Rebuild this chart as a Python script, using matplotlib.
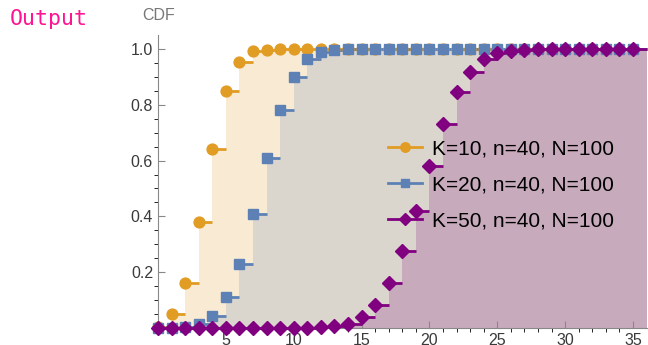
import matplotlib.pyplot as plt
from matplotlib.lines import Line2D
import numpy as np

# CDF values, k = 0..35
k = np.arange(0, 36)
cdf_k10 = [0.003, 0.047, 0.159, 0.380, 0.642, 0.850, 0.956, 0.993, 0.999, 1.0,
           1.0, 1.0, 1.0, 1.0, 1.0, 1.0, 1.0, 1.0, 1.0, 1.0,
           1.0, 1.0, 1.0, 1.0, 1.0, 1.0, 1.0, 1.0, 1.0, 1.0,
           1.0, 1.0, 1.0, 1.0, 1.0, 1.0]
cdf_k20 = [0.0, 0.0, 0.002, 0.011, 0.041, 0.109, 0.228, 0.408, 0.609, 0.782,
           0.899, 0.965, 0.990, 0.998, 1.0, 1.0, 1.0, 1.0, 1.0, 1.0,
           1.0, 1.0, 1.0, 1.0, 1.0, 1.0, 1.0, 1.0, 1.0, 1.0,
           1.0, 1.0, 1.0, 1.0, 1.0, 1.0]
cdf_k50 = [0.0, 0.0, 0.0, 0.0, 0.0, 0.0, 0.0, 0.0, 0.0, 0.0,
           0.0, 0.0, 0.001, 0.004, 0.013, 0.037, 0.081, 0.159, 0.276, 0.420,
           0.580, 0.731, 0.846, 0.920, 0.965, 0.988, 0.996, 0.999, 1.0, 1.0,
           1.0, 1.0, 1.0, 1.0, 1.0, 1.0]
labels = ["K=10, n=40, N=100", "K=20, n=40, N=100", "K=50, n=40, N=100"]
colors = ["#e19c24", "#5e81b5", "#800080"]
markers = ["o", "s", "D"]
msizes = [7.8, 7.4, 7.2]

plt.rcParams["font.family"] = ["Liberation Sans", "DejaVu Sans"]

fig = plt.figure(figsize=(6.48, 3.45), dpi=100)
ax = fig.add_axes([0.2438, 0.0507, 0.754, 0.848])

series = [cdf_k10, cdf_k20, cdf_k50]
for vals, col in zip(series, colors):
    xs = np.append(k, k[-1] + 1)
    ys = np.append(vals, vals[-1])
    ax.fill_between(xs, 0, ys, step="post", color=col, alpha=0.2, lw=0)

for vals, col, m, ms in zip(series, colors, markers, msizes):
    ax.hlines(vals, k, k + 1, colors=col, lw=2, clip_on=False)
    ax.plot(k, vals, ls="none", marker=m, ms=ms, color=col, clip_on=False,
            zorder=3)

ax.set_xlim(0, 36)
ax.set_ylim(0, 1.052)
for side in ["top", "right"]:
    ax.spines[side].set_visible(False)
for side in ["left", "bottom"]:
    ax.spines[side].set_color("#888888")
ax.set_xticks([5, 10, 15, 20, 25, 30, 35])
ax.set_xticks(np.arange(1, 36), minor=True)
ax.set_yticks([0.2, 0.4, 0.6, 0.8, 1.0])
ax.set_yticklabels(["0.2", "0.4", "0.6", "0.8", "1.0"])
ax.set_yticks(np.arange(0.05, 1.05, 0.05), minor=True)
ax.tick_params(direction="in", color="#888888", labelcolor="#3a3a3a",
               labelsize=11.5)
ax.tick_params(which="major", length=5)
ax.tick_params(which="minor", length=3)
ax.tick_params(axis="x", pad=4)

handles = [Line2D([], [], color=c, lw=2, marker=m, ms=ms - 1)
           for c, m, ms in zip(colors, markers, msizes)]
ax.legend(handles, labels, frameon=False, fontsize=15, loc="upper left",
          bbox_to_anchor=(0.47, 0.643), handlelength=1.65, handletextpad=0.5,
          labelspacing=0.82, borderaxespad=0, borderpad=0)

fig.text(0.245, 0.955, "CDF", color="#777777", fontsize=11.5, ha="center",
         va="center")
fig.text(0.015, 0.945, "Output", color="#ff1493", fontsize=15.5,
         family="DejaVu Sans Mono", ha="left", va="center")

fig.savefig("out.png", dpi=100)
